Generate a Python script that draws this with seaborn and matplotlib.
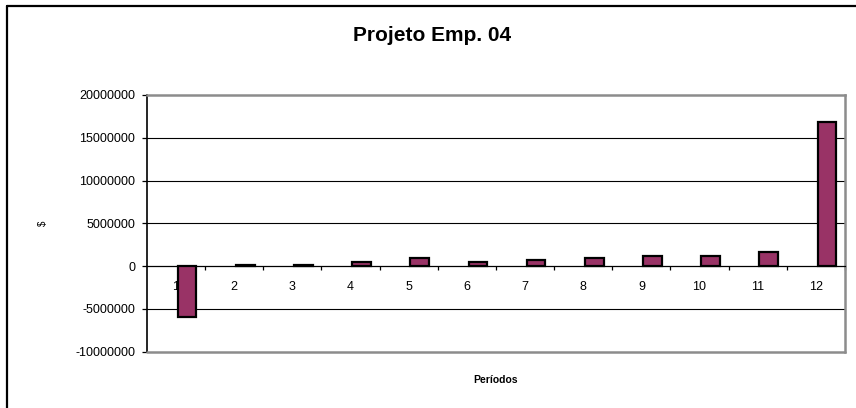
import matplotlib
matplotlib.use("Agg")
import matplotlib.pyplot as plt
from matplotlib.lines import Line2D
from matplotlib.ticker import MultipleLocator, FixedLocator
import seaborn as sns
import pandas as pd

# Cash flow per period for "Projeto Emp. 04"
periodos = ["1", "2", "3", "4", "5", "6", "7", "8", "9", "10", "11", "12"]
fluxo = [-6000000, 150000, 150000, 500000, 950000, 500000,
         700000, 950000, 1200000, 1200000, 1600000, 16800000]

titulo = "Projeto Emp. 04"
rotulo_x = "Períodos"
rotulo_y = "$"
y_min, y_max, y_passo = -10000000, 20000000, 5000000

sns.set_theme(style="white")
plt.rcParams["font.family"] = ["Liberation Sans", "DejaVu Sans"]
plt.rcParams["axes.unicode_minus"] = False

df = pd.DataFrame({"periodo": periodos, "valor": fluxo})

fig = plt.figure(figsize=(8.56, 4.08), dpi=100)
fig.patch.set_facecolor("white")
ax = fig.add_axes([0.1717, 0.138, 0.8154, 0.6292])
ax.set_facecolor("white")

sns.barplot(data=df, x="periodo", y="valor", color="#993366", saturation=1,
            width=0.32, edgecolor="black", linewidth=1.6, ax=ax, zorder=3)
# bars sit in the right half of each period slot
for p in ax.patches:
    p.set_facecolor("#993366")
    p.set_x(p.get_x() + 0.19)

ax.set_ylim(y_min, y_max)
ax.set_xlim(-0.5, len(periodos) - 0.5)
ax.yaxis.set_major_locator(MultipleLocator(y_passo))
ax.ticklabel_format(style="plain", axis="y", useOffset=False)

# horizontal gridlines at the inner tick values
for v in range(y_min + y_passo, y_max, y_passo):
    if v != 0:
        ax.axhline(v, color="black", lw=0.8, zorder=1)

# x axis sits on the zero line
ax.spines["bottom"].set_position(("data", 0))
ax.spines["bottom"].set_color("black")
ax.spines["bottom"].set_linewidth(0.9)
ax.spines["left"].set_color("black")
ax.spines["left"].set_linewidth(1.2)
for s in ("top", "right"):
    ax.spines[s].set_color("#8c8c8c")
    ax.spines[s].set_linewidth(1.8)
ax.axhline(y_min, color="#8c8c8c", lw=1.8, zorder=4, clip_on=False)

ax.xaxis.set_minor_locator(FixedLocator([i + 0.5 for i in range(len(periodos))]))
ax.tick_params(axis="x", which="major", length=0, pad=11, labelsize=9,
               labelcolor="black")
ax.tick_params(axis="x", which="minor", bottom=True, length=3, width=0.9,
               direction="out", color="black")
ax.tick_params(axis="y", which="major", left=True, length=3.5, width=0.9,
               direction="out", color="black", pad=5, labelsize=9,
               labelcolor="black")

ax.set_xlabel(rotulo_x, fontsize=7.5, fontweight="bold", color="black")
ax.xaxis.set_label_coords(0.5, -0.091)
ax.set_ylabel(rotulo_y, fontsize=7, color="black")
ax.yaxis.set_label_coords(-0.142, 0.5)

fig.text(0.505, 0.912, titulo, ha="center", va="center", fontsize=15,
         fontweight="bold", color="black")

# outer frame (left and top edges)
fig.add_artist(Line2D([7 / 856, 7 / 856], [0, 1 - 6 / 408], color="black",
                      lw=1.6, transform=fig.transFigure))
fig.add_artist(Line2D([7 / 856, 1], [1 - 6 / 408, 1 - 6 / 408], color="black",
                      lw=1.6, transform=fig.transFigure))

fig.savefig("out.png", dpi=100, facecolor="white")
